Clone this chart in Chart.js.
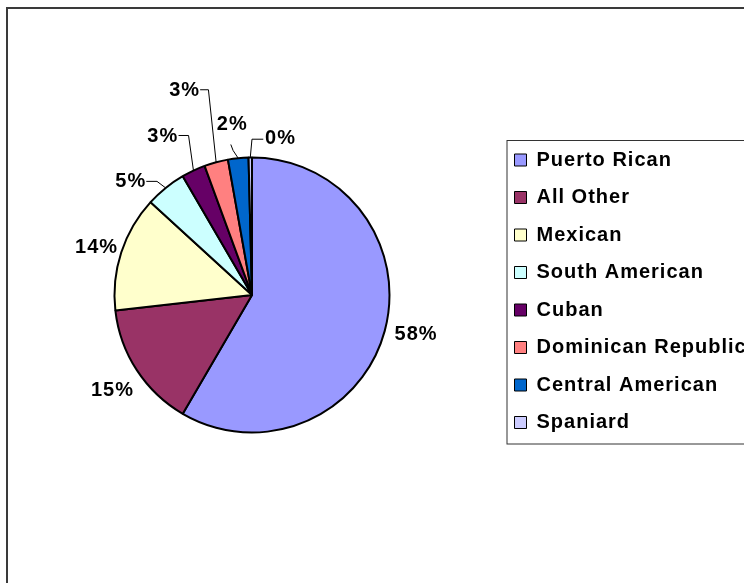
<!DOCTYPE html>
<html><head><meta charset="utf-8">
<script src="https://cdn.jsdelivr.net/npm/chart.js@4/dist/chart.umd.min.js"></script>
<style>html,body{margin:0;padding:0;background:#fff;overflow:hidden;width:744px;height:583px}canvas{display:block}</style>
</head><body>
<canvas id="c" width="744" height="583"></canvas>
<script>
const categories = ['Puerto Rican','All Other','Mexican','South American','Cuban','Dominican Republic','Central American','Spaniard'];
const shares = [58.4, 14.8, 13.6, 4.8, 2.8, 2.8, 2.4, 0.4];
const sliceColors = ['#9999FF','#993366','#FFFFCC','#CCFFFF','#660066','#FF8080','#0066CC','#CCCCFF'];
// label placement: offset (px) from each slice's outer mid-point
const labelOffsets = [[30.8,3],[-24.9,19.6],[-25.2,-6.4],[-35.4,-7.1],[-31.2,-35.1],[-32,-72.8],[-6.4,-34.4],[29.7,-20.3]];
// leader lines: [start, knee] offsets from label centre; end = slice outer mid-point
const leaderLines = [null,null,null,[[16,0.5],[26.7,0.5]],[[16.3,0],[26.3,0]],[[16,0.3],[24.3,0.3]],[[-1,20.7],[1.3,26.7]],[[-16.7,2],[-28,2]]];

const FONT_FAMILY = "'Liberation Sans', Arial, sans-serif";
const FONT_SIZE = 20;
const SPACING = '1px';
const LEGEND_LEFT = 497;
const LEGEND_TOP = 132.5;
const LEGEND_PAD = 17.5;

const basePieLabels = (Chart.overrides.pie && Chart.overrides.pie.plugins && Chart.overrides.pie.plugins.legend && Chart.overrides.pie.plugins.legend.labels.generateLabels) || Chart.overrides.doughnut.plugins.legend.labels.generateLabels;

const decor = {
  id: 'decor',
  beforeLayout(chart){ chart.ctx.letterSpacing = SPACING; },
  afterUpdate(chart){
    const lg = chart.legend;
    const w = lg.right - lg.left, h = lg.bottom - lg.top;
    lg.left = LEGEND_LEFT; lg.right = LEGEND_LEFT + w;
    lg.top = LEGEND_TOP; lg.bottom = LEGEND_TOP + h;
  },
  beforeDraw(chart){
    const ctx = chart.ctx;
    ctx.save();
    ctx.fillStyle = '#fff';
    ctx.fillRect(0,0,chart.width,chart.height);
    ctx.strokeStyle = '#3a3a3a';
    ctx.lineWidth = 2;
    ctx.strokeRect(7, 8, chart.width + 40, chart.height + 40);
    ctx.restore();
    ctx.letterSpacing = SPACING;
  },
  afterDatasetsDraw(chart){
    const ctx = chart.ctx;
    const meta = chart.getDatasetMeta(0);
    const vals = chart.data.datasets[0].data;
    const total = vals.reduce((a,b)=>a+b,0);
    ctx.save();
    ctx.letterSpacing = SPACING;
    ctx.font = 'bold ' + FONT_SIZE + 'px ' + FONT_FAMILY;
    ctx.textAlign = 'center';
    ctx.textBaseline = 'middle';
    meta.data.forEach((arc, i) => {
      const p = arc.getProps(['x','y','startAngle','endAngle','outerRadius'], true);
      const mid = (p.startAngle + p.endAngle) / 2;
      const ex = p.x + Math.cos(mid) * p.outerRadius;
      const ey = p.y + Math.sin(mid) * p.outerRadius;
      const cx = ex + labelOffsets[i][0];
      const cy = ey + labelOffsets[i][1];
      const ll = leaderLines[i];
      if (ll) {
        ctx.beginPath();
        ctx.strokeStyle = '#000';
        ctx.lineWidth = 1;
        ctx.moveTo(cx + ll[0][0], cy + ll[0][1]);
        ctx.lineTo(cx + ll[1][0], cy + ll[1][1]);
        ctx.lineTo(ex, ey);
        ctx.stroke();
      }
      ctx.fillStyle = '#000';
      ctx.fillText(Math.round(vals[i] / total * 100) + '%', cx + 0.5, cy + 1);
    });
    ctx.restore();
  },
  afterDraw(chart){
    const ctx = chart.ctx;
    const lg = chart.legend;
    const n = chart.data.labels.length;
    const step = FONT_SIZE + LEGEND_PAD;
    const firstTop = lg.top + LEGEND_PAD;
    ctx.save();
    ctx.strokeStyle = '#333';
    ctx.lineWidth = 1;
    ctx.strokeRect(lg.left + LEGEND_PAD - 7.5, firstTop - 9.5, 400, (n - 1) * step + FONT_SIZE + 21);
    ctx.restore();
  }
};

new Chart(document.getElementById('c'), {
  type: 'pie',
  data: {
    labels: categories,
    datasets: [{
      data: shares,
      backgroundColor: sliceColors,
      borderColor: '#000',
      borderWidth: 2,
      hoverOffset: 0
    }]
  },
  options: {
    responsive: false,
    animation: false,
    devicePixelRatio: 1,
    radius: 137.5,
    layout: { padding: { left: 10, right: 0, top: 8, bottom: 1 } },
    plugins: {
      tooltip: { enabled: false },
      legend: {
        position: 'right',
        align: 'start',
        maxWidth: 250,
        labels: {
          color: '#000',
          boxWidth: 12,
          boxHeight: 12,
          padding: LEGEND_PAD,
          font: { family: FONT_FAMILY, size: FONT_SIZE, weight: 'bold' },
          generateLabels(chart){
            const items = basePieLabels(chart);
            items.forEach(it => { it.lineWidth = 1; it.strokeStyle = '#000'; });
            return items;
          }
        }
      }
    }
  },
  plugins: [decor]
});
</script>
</body></html>
